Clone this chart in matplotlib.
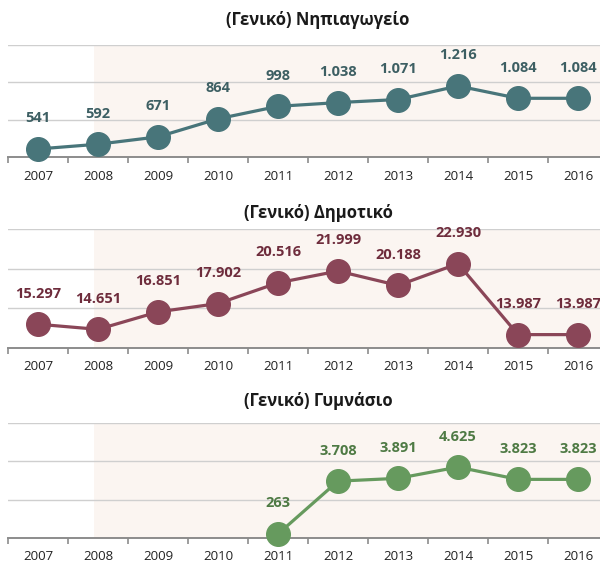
import matplotlib
matplotlib.use("Agg")
import matplotlib.pyplot as plt

plt.rcParams['font.family'] = ['Open Sans', 'DejaVu Sans']

# === Data ===
years = ["2007", "2008", "2009", "2010", "2011", "2012", "2013", "2014", "2015", "2016"]

nipiagogeio = [541, 592, 671, 864, 998, 1038, 1071, 1216, 1084, 1084]
dimotiko = [15297, 14651, 16851, 17902, 20516, 21999, 20188, 22930, 13987, 13987]
gymnasio = [None, None, None, None, 263, 3708, 3891, 4625, 3823, 3823]

titles = ["(Γενικό) Νηπιαγωγείο", "(Γενικό) Δημοτικό", "(Γενικό) Γυμνάσιο"]

# === Styling per panel ===
W, H = 600, 568
panels = [
    # data, line colour, label colour, (top px, bottom px), ylim, gridstep, title y px
    (nipiagogeio, "#48757A", "#3D5F63", (45, 157), (455, 1655), 400, 20),
    (dimotiko, "#8A4658", "#6E2C3C", (229, 348), (12300, 27300), 5000, 213),
    (gymnasio, "#669A5E", "#4E7A44", (423, 538), (0, 7500), 2500, 401),
]


def fmt(v):
    return f"{v:,}".replace(",", ".")


fig = plt.figure(figsize=(W / 100, H / 100), dpi=100)

x0_px, x1_px = 8, 600
for (vals, col, lab_col, (top, bot), ylim, step, ty), title in zip(panels, titles):
    ax = fig.add_axes([x0_px / W, 1 - bot / H, (x1_px - x0_px) / W, (bot - top) / H])
    xmax = 9.5 - 8 / 60
    ax.set_xlim(-0.5, xmax)
    ax.set_ylim(*ylim)

    # shaded background from 2008 onward
    ax.axvspan(0.93, xmax, color="#FBF5F1", zorder=0, lw=0)

    # gridlines
    yt = [ylim[0] + step * k for k in range(1, 4)]
    for y in yt:
        ax.axhline(y, color="#CFCFCF", lw=1.0, zorder=1)

    xs = [i for i, v in enumerate(vals) if v is not None]
    ys = [v for v in vals if v is not None]
    ax.plot(xs, ys, color=col, lw=2.3, marker="o", ms=17, zorder=3, clip_on=False)
    for x, y in zip(xs, ys):
        ax.annotate(fmt(y), (x, y), xytext=(0, 22), textcoords="offset points",
                    ha="center", va="center", fontsize=10.5, fontweight="bold",
                    color=lab_col, zorder=4)

    for s in ["top", "right", "left"]:
        ax.spines[s].set_visible(False)
    ax.spines["bottom"].set_color("#8C8C8C")
    ax.spines["bottom"].set_linewidth(1.4)
    ax.set_yticks([])

    ax.set_xticks(range(len(years)))
    ax.set_xticklabels(years, fontsize=9.5, color="#222222")
    ax.tick_params(axis="x", which="major", length=0, pad=9)
    ax.set_xticks([i - 0.5 for i in range(len(years))], minor=True)
    ax.tick_params(axis="x", which="minor", length=4, width=1.2, color="#8C8C8C")

    fig.text(318 / W, 1 - ty / H, title, ha="center", va="center",
             fontsize=12, fontweight="bold", color="#1A1A1A")

fig.savefig("out.png", dpi=100)
